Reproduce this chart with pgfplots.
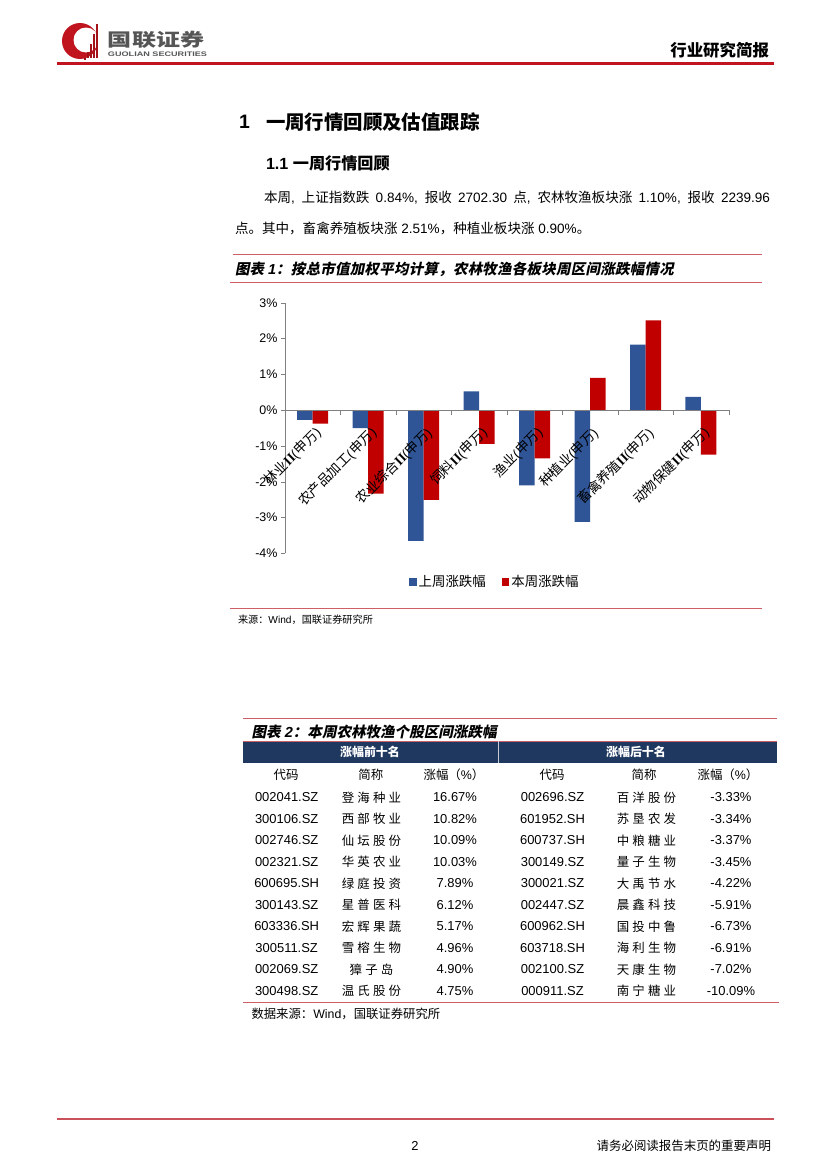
\documentclass[border=0pt]{standalone}
\usepackage{fontspec}
\usepackage{pgfplots}
\pgfplotsset{compat=1.18}

\setmainfont{Liberation Sans}
\newfontfamily\tnr{Liberation Serif}
\newfontfamily\cjkn{Noto Sans CJK SC}
\newfontfamily\cjkls{Noto Sans CJK SC}[LetterSpace=25]
\newfontfamily\cjkcap{Noto Sans CJK SC}[FakeSlant=0.2,LetterSpace=2]
\newfontfamily\cjkcapb{Noto Sans CJK SC}[FakeSlant=0.2]

% switch to the CJK font for CJK characters automatically
\XeTeXinterchartokenstate=1
\newXeTeXintercharclass\CJKcls
\makeatletter
\count@="3000 \loop\XeTeXcharclass\count@=\CJKcls\advance\count@\@ne\ifnum\count@<"3040 \repeat
\count@="4E00 \loop\XeTeXcharclass\count@=\CJKcls\advance\count@\@ne\ifnum\count@<"A000 \repeat
\count@="FF00 \loop\XeTeXcharclass\count@=\CJKcls\advance\count@\@ne\ifnum\count@<"FFF0 \repeat
\makeatother
\def\cjkswitch{\cjkn}
\XeTeXinterchartoks 0 \CJKcls={\begingroup\cjkswitch}
\XeTeXinterchartoks 4095 \CJKcls={\begingroup\cjkswitch}
\XeTeXinterchartoks \CJKcls 0={\endgroup}
\XeTeXinterchartoks \CJKcls 4095={\endgroup}

\newcommand\fs[1]{\fontsize{#1}{#1}\selectfont}

\definecolor{hdrred}{RGB}{192,20,30}
\definecolor{rulered}{RGB}{205,95,105}
\definecolor{navy}{RGB}{31,56,96}
\definecolor{barblue}{RGB}{47,85,151}
\definecolor{barred}{RGB}{192,0,0}
\definecolor{axisgray}{RGB}{128,128,128}
\definecolor{logogray}{RGB}{85,85,85}

\begin{document}
\begin{tikzpicture}
\path[use as bounding box, fill=white] (0,0) rectangle (827bp,-1169bp);

\begin{scope}[x=1bp,y=-1bp, every node/.style={inner sep=0pt, outer sep=0pt}]
% ---- header
\fill[hdrred] (80,41) circle[radius=18];
\fill[white] (86,40) circle[radius=12.5];
\foreach \xx/\tt in {84/44,87/36,90/28,93/18,96/8}
  \fill[hdrred!85!black] (\xx,58) rectangle (\xx+1.6,\tt+16);
\node[anchor=west, text=logogray] at (108,40) {\scalebox{1.05}[0.78]{\fs{23}\bfseries 国联证券}};
\node[anchor=west, text=logogray] at (108,54) {\resizebox{99bp}{4.6bp}{\bfseries GUOLIAN SECURITIES}};
\node[anchor=east] at (769,50) {\fs{16.5}\bfseries 行业研究简报};
\fill[hdrred] (57,62.3) rectangle (774,64.5);

% ---- headings and text
\node[anchor=west] at (239,121.7) {\fs{19.5}\bfseries 1};
\node[anchor=west] at (266,121.7) {\fs{19.5}\bfseries 一周行情回顾及估值跟踪};
\node[anchor=west] at (266,163) {\fs{16.2}\bfseries 1.1 一周行情回顾};
\node[anchor=west] at (264,197.7) {\fs{13.6}\makebox[506bp][s]{本周, 上证指数跌 0.84\%, 报收 2702.30 点, 农林牧渔板块涨 1.10\%, 报收 2239.96}};
\node[anchor=west] at (235,228) {\fs{13.6}点。其中，畜禽养殖板块涨 2.51\%，种植业板块涨 0.90\%。};

% ---- figure 1 frame
\draw[rulered, line width=0.9] (233,254.3) -- (762,254.3);
\node[anchor=west] at (235,269) {\fs{14.5}\bfseries\itshape\def\cjkswitch{\cjkcap}图表 1：按总市值加权平均计算，农林牧渔各板块周区间涨跌幅情况};
\draw[rulered, line width=0.9] (230,282.7) -- (762,282.7);
\draw[rulered, line width=0.9] (230,608.3) -- (762,608.3);
\node[anchor=west] at (238,620) {\fs{10.2}来源：Wind，国联证券研究所};

% ---- table 2
\draw[rulered, line width=0.9] (243,718.3) -- (777,718.3);
\node[anchor=west] at (251.7,731.7) {\fs{14.6}\bfseries\itshape\def\cjkswitch{\cjkcapb}图表 2：本周农林牧渔个股区间涨跌幅};
\fill[navy] (243,741) rectangle (777,763.3);
\draw[rulered, line width=0.6] (243,741) -- (777,741);
\draw[white!75!navy, line width=0.6] (498.3,741) -- (498.3,763.3);
\node[text=white] at (370,752.3) {\fs{12}\bfseries 涨幅前十名};
\node[text=white] at (636,752.3) {\fs{12}\bfseries 涨幅后十名};
\foreach \xx in {286,552}
  \node at (\xx,775) {\fs{12.5}代码};
\foreach \xx in {370.8,644}
  \node at (\xx,775) {\fs{12.5}简称};
\foreach \xx in {454,728}
  \node at (\xx,775) {\fs{12.5}涨幅（\%）};
\foreach \c/\n/\p [count=\i from 0] in {
  002041.SZ/登海种业/16.67\%, 300106.SZ/西部牧业/10.82\%,
  002746.SZ/仙坛股份/10.09\%, 002321.SZ/华英农业/10.03\%,
  600695.SH/绿庭投资/7.89\%, 300143.SZ/星普医科/6.12\%,
  603336.SH/宏辉果蔬/5.17\%, 300511.SZ/雪榕生物/4.96\%,
  002069.SZ/獐子岛/4.90\%, 300498.SZ/温氏股份/4.75\%} {
  \node at (286.7,{797.3+21.52*\i}) {\fs{13}\c};
  \node at (371.5,{797.3+21.52*\i}) {\fs{12.5}\def\cjkswitch{\cjkls}\n};
  \node at (455,{797.3+21.52*\i}) {\fs{13}\p};
}
\foreach \c/\n/\p [count=\i from 0] in {
  002696.SZ/百洋股份/-3.33\%, 601952.SH/苏垦农发/-3.34\%,
  600737.SH/中粮糖业/-3.37\%, 300149.SZ/量子生物/-3.45\%,
  300021.SZ/大禹节水/-4.22\%, 002447.SZ/晨鑫科技/-5.91\%,
  600962.SH/国投中鲁/-6.73\%, 603718.SH/海利生物/-6.91\%,
  002100.SZ/天康生物/-7.02\%, 000911.SZ/南宁糖业/-10.09\%} {
  \node at (552.5,{797.3+21.52*\i}) {\fs{13}\c};
  \node at (646.5,{797.3+21.52*\i}) {\fs{12.5}\def\cjkswitch{\cjkls}\n};
  \node at (731,{797.3+21.52*\i}) {\fs{13}\p};
}
\draw[rulered, line width=0.9] (243,1002.3) -- (779,1002.3);
\node[anchor=west] at (251.5,1014) {\fs{12.4}数据来源：Wind，国联证券研究所};

% ---- footer
\draw[rulered!80!hdrred, line width=2.2] (57,1119) -- (774,1119);
\node at (415,1145.7) {\fs{13}2};
\node[anchor=east] at (771,1145.7) {\fs{12.5}请务必阅读报告末页的重要声明};
\end{scope}

% ---- chart
\begin{axis}[
    at={(285bp,-553.3bp)}, anchor=south west,
    scale only axis, width=443.7bp, height=250.6bp,
    xmin=0, xmax=8, ymin=-4, ymax=3,
    axis x line=middle, axis y line=left,
    axis line style={draw=axisgray, -},
    axis on top,
    ybar=0pt, bar width=15.5bp,
    ytick={-4,...,3},
    yticklabels={-4\%,-3\%,-2\%,-1\%,0\%,1\%,2\%,3\%},
    yticklabel style={font=\fs{12.5}, text=black},
    ytick style={draw=axisgray},
    tick align=outside, major tick length=4bp,
    xtick={0.5,1.5,...,7.5},
    xticklabels={林业{\tnr\bfseries II}(申万), 农产品加工(申万), 农业综合{\tnr\bfseries II}(申万), 饲料{\tnr\bfseries II}(申万), 渔业(申万), 种植业(申万), 畜禽养殖{\tnr\bfseries II}(申万), 动物保健{\tnr\bfseries II}(申万)},
    xtick style={draw=none},
    xticklabel style={font=\fs{13.5}, text=black, yshift=-10bp, xshift=1bp, rotate=45, anchor=north east, inner sep=1bp},
    extra x ticks={1,2,...,8},
    extra x tick labels={},
    extra x tick style={xtick style={draw=axisgray}, major tick length=5bp},
    legend style={at={(0.473,-0.113)}, anchor=center, draw=none, fill=none,
        legend columns=2, font=\fs{13.5},
        /tikz/every even column/.append style={column sep=14bp}},
    legend image code/.code={\fill[#1] (0bp,-4bp) rectangle (7.5bp,4bp);},
]
\addplot[fill=barblue, draw=none] coordinates {
    (0.5,-0.27) (1.5,-0.50) (2.5,-3.65) (3.5,0.52)
    (4.5,-2.10) (5.5,-3.12) (6.5,1.83) (7.5,0.37)};
\addlegendentry{上周涨跌幅}
\addplot[fill=barred, draw=none] coordinates {
    (0.5,-0.38) (1.5,-2.33) (2.5,-2.51) (3.5,-0.94)
    (4.5,-1.35) (5.5,0.90) (6.5,2.51) (7.5,-1.24)};
\addlegendentry{本周涨跌幅}
\end{axis}
\end{tikzpicture}
\end{document}
